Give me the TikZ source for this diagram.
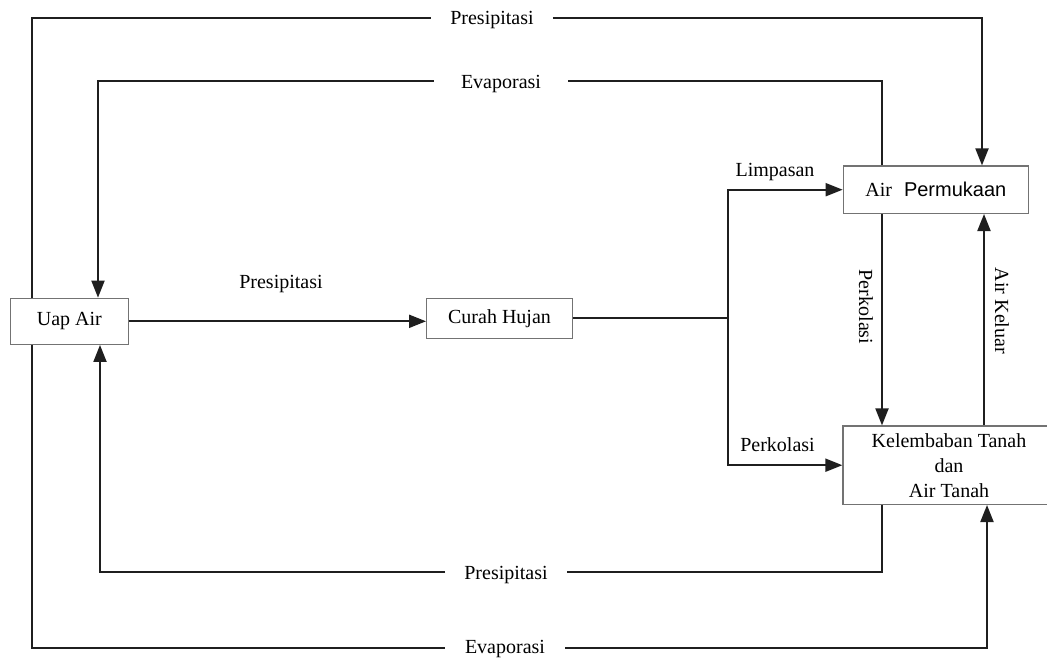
\documentclass[tikz,border=0pt]{standalone}
\usepackage{fontspec}
\setmainfont{Liberation Serif}
\newfontfamily\sansfam{Liberation Sans}
\usetikzlibrary{arrows.meta}
\begin{document}
\begin{tikzpicture}[x=1pt,y=-1pt,
  box/.style={draw=black!55, line width=1.3pt, fill=white, inner sep=0pt, align=center,
    text=black, font=\fontsize{20}{25}\selectfont},
  lbl/.style={inner sep=0pt, text=black, font=\fontsize{20}{25}\selectfont},
  conn/.style={draw=black!88, line width=2pt},
  arr/.style={conn, -{Triangle[length=17pt,width=13pt]}}]
\useasboundingbox (0,0) rectangle (1047,658);

% boxes
\node[box, minimum width=118pt, minimum height=46pt] (uap) at (69.3,321.3) {Uap Air};
\node[box, minimum width=145.6pt, minimum height=40pt] (curah) at (499.5,318.3) {Curah Hujan};
\node[box, minimum width=185pt, minimum height=47.3pt] (perm) at (935.8,189.7) {Air\hspace{0.6em}{\sansfam Permukaan}};
\node[box, minimum width=212pt, minimum height=78.3pt] (kel) at (949,465.2) {Kelembaban Tanah\\dan\\Air Tanah};

% x / y reference coordinates
\coordinate (xo) at (32,0);
\coordinate (xi1) at (98,0);
\coordinate (xi2) at (100,0);
\coordinate (xr1) at (882,0);
\coordinate (xr2a) at (982,0);
\coordinate (xr2b) at (984,0);
\coordinate (xr2c) at (987,0);
\coordinate (xj) at (728,0);
\coordinate (yt1) at (0,18);
\coordinate (yt2) at (0,81);
\coordinate (yb1) at (0,572);
\coordinate (yb2) at (0,648);

% labels
\node[lbl, anchor=base, inner xsep=19pt] (lp1) at (492,25) {Presipitasi};
\node[lbl, anchor=base, inner xsep=27pt] (le1) at (501,89) {Evaporasi};
\node[lbl, anchor=base] (lp0) at (281,288) {Presipitasi};
\node[lbl, anchor=base] (llim) at (775,176) {Limpasan};
\node[lbl, anchor=base] (lperk1) at (777.5,451) {Perkolasi};
\node[lbl, rotate=-90] (lperk2) at (866,307) {Perkolasi};
\node[lbl, rotate=-90] (lkel) at (1002,311) {Air Keluar};
\node[lbl, anchor=base, inner xsep=19pt] (lp2) at (506,579) {Presipitasi};
\node[lbl, anchor=base, inner xsep=20pt] (le2) at (505,653) {Evaporasi};

% top presipitasi
\draw[conn] (uap.north -| xo) |- (lp1.west |- yt1);
\draw[arr] (lp1.east |- yt1) -| (perm.north -| xr2a);
% top evaporasi
\draw[conn] (perm.north -| xr1) |- (le1.east |- yt2);
\draw[arr] (le1.west |- yt2) -| (uap.north -| xi1);
% uap -> curah
\draw[arr] (uap.east) -- (uap.east -| curah.west);
% branch
\coordinate (jn) at (curah.east -| xj);
\draw[conn] (curah.east) -- (jn);
\draw[arr] (jn) |- (perm.west);
\draw[arr] (jn) |- (kel.west);
% verticals between right boxes
\draw[arr] (perm.south -| xr1) -- (kel.north -| xr1);
\draw[arr] (kel.north -| xr2b) -- (perm.south -| xr2b);
% bottom presipitasi
\draw[conn] (kel.south -| xr1) |- (lp2.east |- yb1);
\draw[arr] (lp2.west |- yb1) -| (uap.south -| xi2);
% bottom evaporasi
\draw[conn] (uap.south -| xo) |- (le2.west |- yb2);
\draw[arr] (le2.east |- yb2) -| (kel.south -| xr2c);
\end{tikzpicture}
\end{document}
